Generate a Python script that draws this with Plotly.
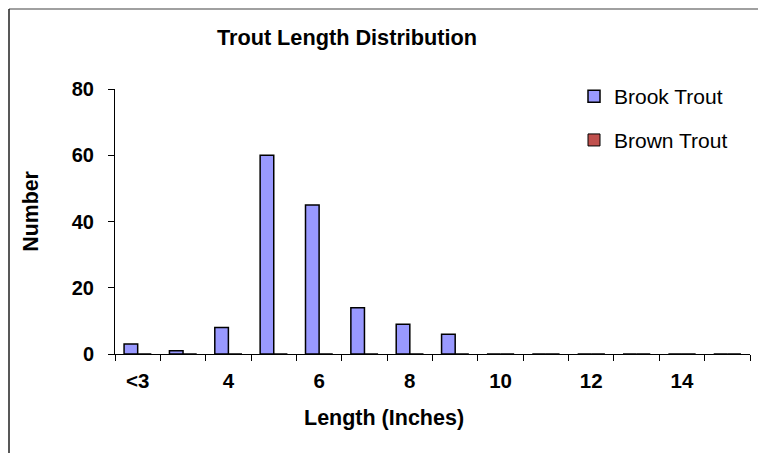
import plotly.graph_objects as go

categories = ["<3", "3", "4", "5", "6", "7", "8", "9", "10", "11", "12", "13", "14", "15"]
brook_trout = [3, 1, 8, 60, 45, 14, 9, 6, 0, 0, 0, 0, 0, 0]
brown_trout = [0, 0, 0, 0, 0, 0, 0, 0, 0, 0, 0, 0, 0, 0]
y_ticks = [0, 20, 40, 60, 80]

FONT = "Liberation Sans, Arial, sans-serif"
x_pos = list(range(len(categories)))
label_idx = x_pos[::2]

fig = go.Figure()
fig.add_trace(go.Bar(
    x=x_pos, y=brook_trout, name="Brook Trout", legendgroup="a",
    marker=dict(color="#9999FF", line=dict(color="black", width=1.5)),
))
fig.add_trace(go.Bar(
    x=x_pos, y=brown_trout, name="Brown Trout", legendgroup="b",
    marker=dict(color="#C0504D", line=dict(color="black", width=1)),
))

# page body has an 8px default margin; compensate so the chart lands where the reference does
OFF = 8
W, H = 766 - OFF, 453 - OFF
L, R, T, B = 115 - OFF, 16, 89 - OFF, 99
pw, ph = W - L - R, H - T - B

def px(x):
    return (x - OFF - L) / pw

def py(y):
    return (H - B - (y - OFF)) / ph

fig.update_layout(
    width=W, height=H,
    margin=dict(l=L, r=R, t=T, b=B),
    paper_bgcolor="white", plot_bgcolor="white",
    barmode="group", bargap=0.4, bargroupgap=0,
    font=dict(family=FONT, color="black", size=20),
    title=dict(text="Trout Length Distribution", x=(347 - OFF) / W, xanchor="center",
               y=1 - (37.5 - OFF) / H, yanchor="middle",
               font=dict(size=21.7, weight="bold", family=FONT, color="black")),
    showlegend=True,
    legend=dict(x=px(574), y=py(76), xanchor="left", yanchor="top",
                bgcolor="rgba(0,0,0,0)", font=dict(size=21, family=FONT),
                tracegroupgap=13.5, itemclick=False),
    xaxis=dict(
        range=[-0.5, 13.5], showline=True, linecolor="black", linewidth=1,
        showgrid=False, zeroline=False, layer="above traces",
        tickmode="array", tickvals=label_idx,
        ticktext=[categories[i] for i in label_idx],
        ticks="", ticklabelstandoff=8,
        tickfont=dict(size=20.5, weight="bold", family=FONT),
        minor=dict(ticks="outside", ticklen=6, tickcolor="black",
                   tick0=-0.5, dtick=1, showgrid=False),
    ),
    yaxis=dict(
        range=[0, 80], tickmode="array", tickvals=y_ticks,
        showline=True, linecolor="black", linewidth=1,
        showgrid=False, zeroline=False,
        ticks="outside", ticklen=6, tickcolor="black",
        ticklabelstandoff=10,
        tickfont=dict(size=20, weight="bold", family=FONT),
    ),
    annotations=[
        dict(text="Number", textangle=-90, xref="paper", yref="paper",
             x=px(31), y=py(211.7), xanchor="center", yanchor="middle",
             showarrow=False, font=dict(size=21.3, weight="bold", family=FONT)),
        dict(text="Length (Inches)", xref="paper", yref="paper",
             x=px(383.8), y=py(418), xanchor="center", yanchor="middle",
             showarrow=False, font=dict(size=21.5, weight="bold", family=FONT)),
    ],
    shapes=[
        # chart frame: top edge (grey) and left edge (dark), as close to the page corner as the page allows
        dict(type="line", xref="paper", yref="paper",
             x0=px(9), x1=px(800), y0=py(9), y1=py(9),
             line=dict(color="#808080", width=1.5), layer="below"),
        dict(type="line", xref="paper", yref="paper",
             x0=px(9), x1=px(9), y0=py(9), y1=py(470),
             line=dict(color="#202020", width=1.5), layer="below"),
    ],
)

fig.write_html("out.html")
